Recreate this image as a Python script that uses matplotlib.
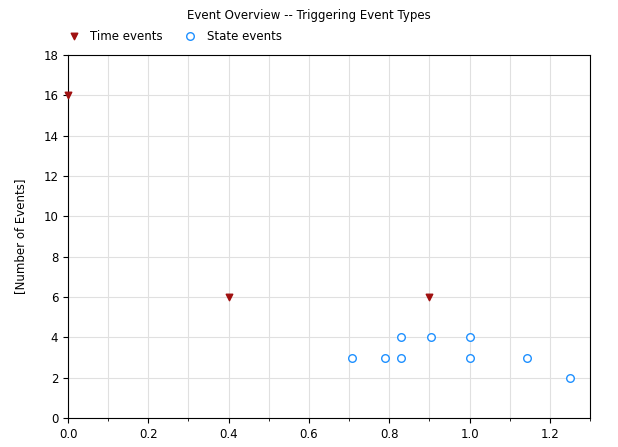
import matplotlib
matplotlib.use("Agg")
import matplotlib.pyplot as plt
import numpy as np

time_x = [0.0, 0.4, 0.9]
time_y = [16, 6, 6]
state_x = [0.707, 0.79, 0.83, 0.83, 0.905, 1.0, 1.0, 1.143, 1.25]
state_y = [3, 3, 4, 3, 4, 4, 3, 3, 2]

fig = plt.figure(figsize=(6.18, 4.47), dpi=100)
ax = fig.add_axes([68/618, 1-418/447, (590-68)/618, (418-55)/447])
ax.scatter(time_x, time_y, marker='v', color='#a01010', s=22, zorder=3, clip_on=False, label='Time events')
ax.scatter(state_x, state_y, marker='o', facecolors='white', edgecolors='#1e90ff', s=30, zorder=3, linewidths=1, label='State events')
ax.set_xlim(0, 1.3)
ax.set_ylim(0, 18)
ax.set_xticks(np.arange(0, 1.21, 0.2))
ax.set_xticks(np.arange(0, 1.31, 0.1), minor=True)
ax.set_yticks(np.arange(0, 18.1, 2))
ax.grid(True, which='both', color='#e0e0e0', linewidth=0.8)
ax.set_axisbelow(True)
ax.tick_params(labelsize=8.5, direction='out')
ax.set_ylabel('[Number of Events]', fontsize=8.5, labelpad=12)
fig.text(0.5, 1-15/447, 'Event Overview -- Triggering Event Types', ha='center', va='center', fontsize=8.5)
fig.legend(loc='center left', bbox_to_anchor=(68/618, 1-36/447), ncol=2, frameon=False, fontsize=8.5,
           handlelength=1.0, handletextpad=0.9, columnspacing=1.8, borderpad=0, borderaxespad=0)
fig.savefig('out.png', dpi=100)
